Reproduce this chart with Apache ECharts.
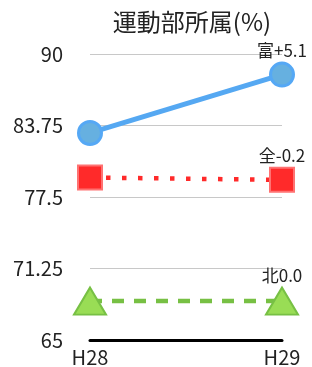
<!DOCTYPE html>
<html>
<head>
<meta charset="utf-8">
<script src="https://cdn.jsdelivr.net/npm/echarts@6/dist/echarts.min.js"></script>
<style>
  html, body { margin: 0; padding: 0; background: #fff; }
  #chart { width: 312px; height: 367px; }
</style>
</head>
<body>
<div id="chart"></div>
<script>
const categories = ['H28', 'H29']
const tomiValues = [83.1, 88.2]
const zenValues = [79.2, 79.0]
const kitaValues = [68.4, 68.4]
const endLabels = ['富+5.1', '全-0.2', '北0.0']
const yMin = 65
const yMax = 90
const yStep = 6.25

const font = '"Noto Sans CJK JP", "Noto Sans", sans-serif'

function endLabel(text) {
  return {
    show: true,
    position: 'top',
    distance: 3,
    fontFamily: font,
    fontSize: 17,
    color: '#222',
    formatter: (p) => (p.dataIndex === categories.length - 1 ? text : '')
  }
}

const chart = echarts.init(document.getElementById('chart'))
chart.setOption({
  animation: false,
  title: {
    text: '運動部所属(%)',
    left: 187,
    textAlign: 'center',
    top: 5,
    textStyle: { fontFamily: font, fontSize: 24, fontWeight: 'normal', color: '#222' }
  },
  grid: { left: 90, right: 30, top: 54, bottom: 25 },
  xAxis: {
    type: 'category',
    boundaryGap: false,
    data: categories,
    axisLine: { lineStyle: { color: '#000', width: 3 } },
    axisTick: { show: false },
    axisLabel: { fontFamily: font, fontSize: 20, color: '#222', margin: 7 }
  },
  yAxis: {
    type: 'value',
    min: yMin,
    max: yMax,
    interval: yStep,
    axisLine: { show: false },
    axisTick: { show: false },
    axisLabel: { fontFamily: font, fontSize: 20, color: '#222', margin: 27 },
    splitLine: { lineStyle: { color: '#c8c8c8', width: 1 } }
  },
  series: [
    {
      name: '富',
      type: 'line',
      data: tomiValues,
      symbol: 'circle',
      symbolSize: 23,
      lineStyle: { color: '#55a8f2', width: 5 },
      itemStyle: { color: '#66b0e0', borderColor: '#55a8f5', borderWidth: 3 },
      label: endLabel(endLabels[0]),
      z: 3
    },
    {
      name: '全',
      type: 'line',
      data: zenValues,
      symbol: 'rect',
      symbolSize: 24,
      lineStyle: { color: '#ff2a2a', width: 4.5, type: [4.5, 11.5] },
      itemStyle: { color: '#ff2a2a', borderColor: '#ff7272', borderWidth: 2 },
      label: endLabel(endLabels[1]),
      z: 3
    },
    {
      name: '北',
      type: 'line',
      data: kitaValues,
      symbol: 'triangle',
      symbolSize: [32, 27],
      lineStyle: { color: '#77c044', width: 4.5, type: [12, 10] },
      itemStyle: { color: '#99dd55', borderColor: '#77c044', borderWidth: 2 },
      label: endLabel(endLabels[2]),
      z: 3
    }
  ]
})
</script>
</body>
</html>
